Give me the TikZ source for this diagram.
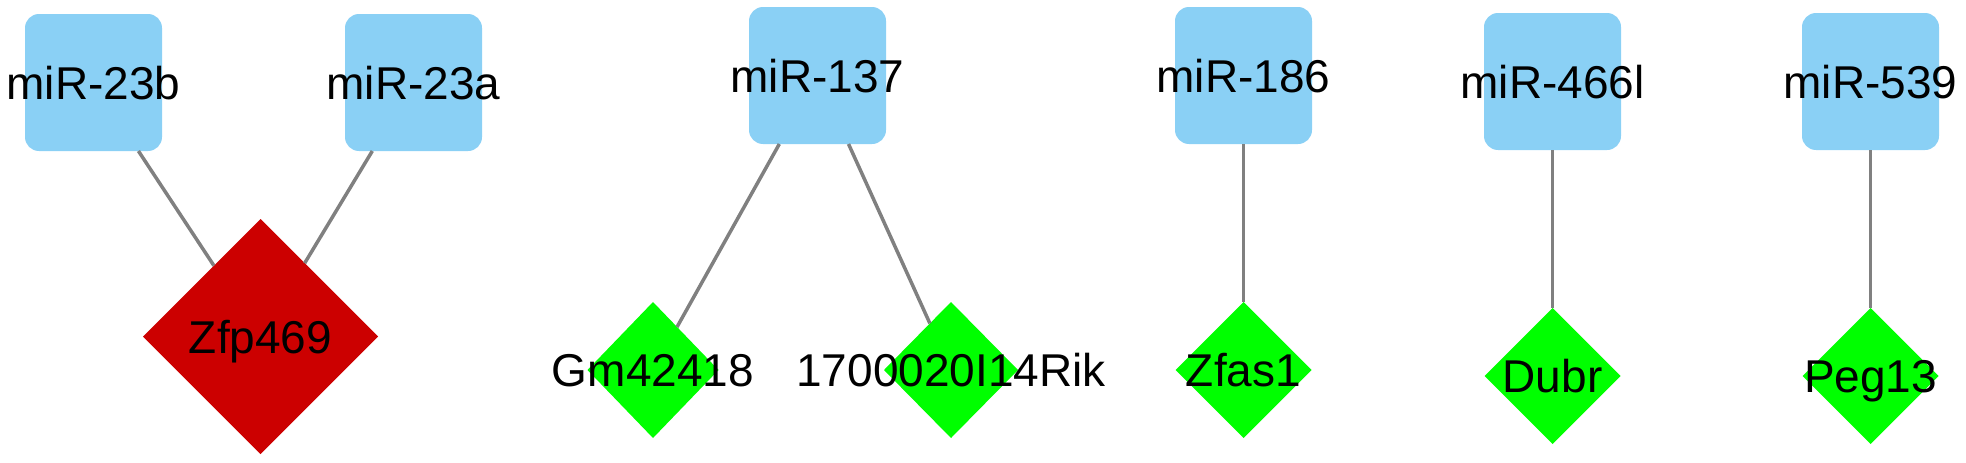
\documentclass[tikz,border=0pt]{standalone}
\usepackage{fontspec}
\setmainfont{Liberation Sans}
\usetikzlibrary{shapes.geometric}
\definecolor{boxblue}{RGB}{138,208,245}
\definecolor{genered}{RGB}{204,0,0}
\definecolor{genegreen}{RGB}{0,255,0}
\definecolor{edgegray}{RGB}{128,128,128}
\tikzset{
  mirbox/.style={rectangle, fill=boxblue, minimum width=137pt, minimum height=137pt,
    inner sep=0pt, outer sep=0pt, rounded corners=14pt},
  genediamond/.style={diamond, fill=genegreen, minimum width=136pt, minimum height=136pt,
    inner sep=0pt, outer sep=0pt},
  hubdiamond/.style={diamond, fill=genered, minimum width=235pt, minimum height=235pt,
    inner sep=0pt, outer sep=0pt},
  lbl/.style={font=\fontsize{46}{50}\selectfont, text=black, text height=33pt,
    text depth=0pt, inner sep=0pt, outer sep=0pt},
  link/.style={draw=edgegray, line width=3.5pt}
}
\begin{document}
\begin{tikzpicture}[x=1pt, y=-1pt]
\useasboundingbox (0,0) rectangle (1966,463);
% miRNA boxes
\node[mirbox] (m23b) at (93.5,82.5) {};
\node[mirbox] (m23a) at (413.5,82.5) {};
\node[mirbox] (m137) at (817.5,75.5) {};
\node[mirbox] (m186) at (1243.5,75.5) {};
\node[mirbox] (m466) at (1552.5,81.5) {};
\node[mirbox] (m539) at (1870.5,81.5) {};
% genes
\node[hubdiamond] (zfp) at (260.5,336.5) {};
\node[genediamond, minimum width=131pt] (gm) at (653,370) {};
\node[genediamond, minimum width=134pt] (rik) at (951,370) {};
\node[genediamond] (zfas) at (1243.5,370) {};
\node[genediamond] (dubr) at (1552.5,376) {};
\node[genediamond] (peg) at (1870.5,376) {};
% edges
\draw[link] (m23b) -- (zfp);
\draw[link] (m23a) -- (zfp);
\draw[link] (m137) -- (gm);
\draw[link] (m137) -- (rik);
\draw[link] (m186) -- (zfas);
\draw[link] (m466) -- (dubr);
\draw[link] (m539) -- (peg);
% labels
\node[lbl] (t23b) at (m23b.center) {miR-23b};
\node[lbl] (t23a) at (m23a.center) {miR-23a};
\node[lbl] (t137) at (m137.center) {miR-137};
\node[lbl] (t186) at (m186.center) {miR-186};
\node[lbl] (t466) at (m466.center) {miR-466l};
\node[lbl] (t539) at (m539.center) {miR-539};
\node[lbl] (tzfp) at (zfp.center) {Zfp469};
\node[lbl] (tgm) at (gm.center) {Gm42418};
\node[lbl] (trik) at (rik.center) {1700020I14Rik};
\node[lbl] (tzfas) at (zfas.center) {Zfas1};
\node[lbl] (tdubr) at (dubr.center) {Dubr};
\node[lbl] (tpeg) at (peg.center) {Peg13};
\end{tikzpicture}
\end{document}
